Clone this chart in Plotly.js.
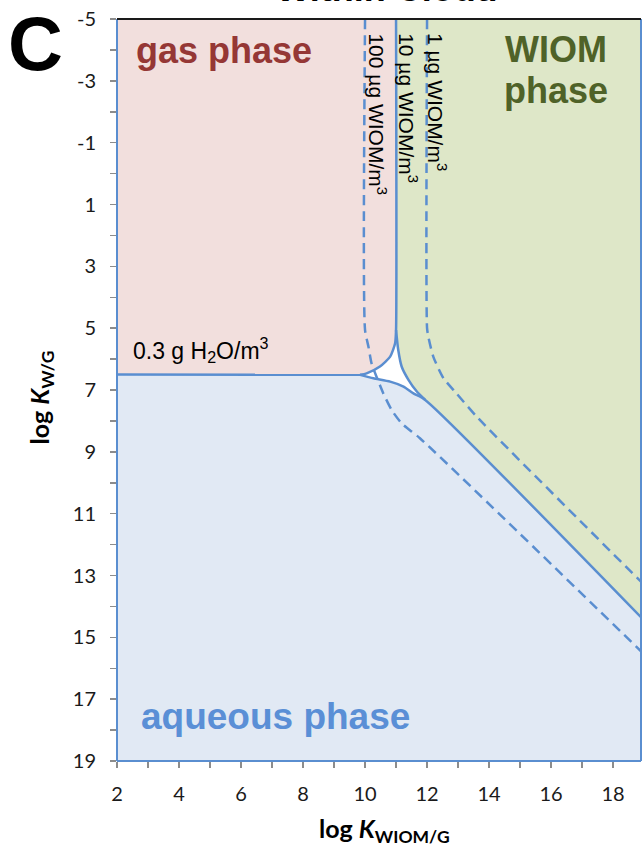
<!DOCTYPE html>
<html>
<head>
<meta charset="utf-8">
<script src="https://cdn.plot.ly/plotly-3.0.1.min.js"></script>
<style>
  html, body { margin: 0; padding: 0; background: #fff; }
  #chart { width: 643px; height: 852px; }
</style>
</head>
<body>
<div id="chart"></div>
<script>
// Axis ranges and tick positions
const xRange = [2, 18.9];
const yRange = [-5, 19];
const xTickVals = [2, 4, 6, 8, 10, 12, 14, 16, 18];
const xMinorTicks = [3, 5, 7, 9, 11, 13, 15, 17];
const yTickVals = [-5, -3, -1, 1, 3, 5, 7, 9, 11, 13, 15, 17, 19];
const yMinorTicks = [-4, -2, 0, 2, 4, 6, 8, 10, 12, 14, 16, 18];

// 50 % phase boundaries for 0.3 g H2O/m3 and 10 µg WIOM/m3
const gasEdgeX = [11, 11, 10.97, 10.81, 10.48, 10.05, 9.84];
const gasEdgeY = [-5, 5.06, 5.49, 5.92, 6.24, 6.46, 6.51];
const waterEdgeX = [2, 9.84, 10.27, 10.81, 11.24, 11.56, 11.94, 18.9];
const waterEdgeY = [6.5, 6.51, 6.62, 6.73, 6.89, 7.11, 7.32, 14.35];
const wiomEdgeX = [11, 11.07, 11.18, 11.40, 11.67, 11.94];
const wiomEdgeY = [5.06, 5.7, 6.24, 6.67, 7.05, 7.32];

// WIOM boundaries for 100 µg/m3 and 1 µg/m3
const wiom100X = [10, 10, 10.11, 10.21, 10.37, 10.59, 10.86, 11.18, 11.77, 18.9];
const wiom100Y = [-5, 5.06, 5.6, 6.14, 6.57, 7.11, 7.65, 8.08, 8.56, 15.45];
const wiom1X = [12, 12, 12.04, 12.2, 12.53, 12.95, 13.6, 18.9];
const wiom1Y = [-5, 5.0, 5.27, 5.92, 6.62, 7.11, 7.86, 13.2];

const last = a => a[a.length - 1];

// Shaded phase regions
const gasRegionX = [xRange[0], ...gasEdgeX, xRange[0]];
const gasRegionY = [yRange[0], ...gasEdgeY, waterEdgeY[0]];
const wiomRegionX = [gasEdgeX[0], ...wiomEdgeX, last(waterEdgeX), xRange[1], xRange[1]];
const wiomRegionY = [gasEdgeY[0], ...wiomEdgeY, last(waterEdgeY), last(waterEdgeY), yRange[0]];
const aqRegionX = [...waterEdgeX, xRange[1], xRange[0]];
const aqRegionY = [...waterEdgeY, yRange[1], yRange[1]];

const lineBlue = '#5a8ed0';
const region = (x, y, color) => ({
  x, y, type: 'scatter', mode: 'lines', fill: 'toself', fillcolor: color,
  line: { width: 0, color: color }, hoverinfo: 'skip', showlegend: false
});
const boundary = (x, y, dash, shape) => ({
  x, y, type: 'scatter', mode: 'lines',
  line: { color: lineBlue, width: 2.5, dash: dash, shape: shape || 'spline', smoothing: 0.6 },
  hoverinfo: 'skip', showlegend: false
});

const traces = [
  region(gasRegionX, gasRegionY, '#f2dfdd'),
  region(wiomRegionX, wiomRegionY, '#dee7c8'),
  region(aqRegionX, aqRegionY, '#e1e9f4'),
  boundary(wiom100X, wiom100Y, '10px,6px'),
  boundary(wiom1X, wiom1Y, '10px,6px'),
  boundary(gasEdgeX, gasEdgeY, 'solid'),
  boundary(waterEdgeX.slice(0, 2), waterEdgeY.slice(0, 2), 'solid', 'linear'),
  boundary(waterEdgeX.slice(1), waterEdgeY.slice(1), 'solid'),
  boundary(wiomEdgeX, wiomEdgeY, 'solid')
];

const tickFont = { family: 'Lato, sans-serif', size: 20, color: '#1a1a1a' };
const tickStyle = { ticks: 'outside', ticklen: 6, tickwidth: 1.5, tickcolor: '#8c8c8c' };

const labelFont = (size, color, bold) => ({
  family: '"Liberation Sans", Arial, sans-serif', size: size, color: color,
  weight: bold ? 'bold' : 'normal'
});

const annotations = [
  { text: '<b>gas phase</b>', x: 2.55, y: -3.98, xanchor: 'left', yanchor: 'middle',
    font: labelFont(36, '#953735', true) },
  { text: '<b>WIOM</b>', x: 16.16, y: -4.02, xanchor: 'center', yanchor: 'middle',
    font: labelFont(36, '#4f6228', true) },
  { text: '<b>phase</b>', x: 16.16, y: -2.69, xanchor: 'center', yanchor: 'middle',
    font: labelFont(36, '#4f6228', true) },
  { text: '<b>aqueous phase</b>', x: 7.1, y: 17.56, xanchor: 'center', yanchor: 'middle',
    font: labelFont(37, '#5a8fd6', true) },
  { text: '0.3 g H<sub>2</sub>O/m<sup>3</sup>', x: 2.45, y: 5.72, xanchor: 'left', yanchor: 'middle',
    font: labelFont(23, '#000', false) },
  { text: '100 µg WIOM/m<sup>3</sup>', x: 10.4, y: -4.6, xanchor: 'center', yanchor: 'top',
    textangle: 90, font: labelFont(21, '#000', false) },
  { text: '10 µg WIOM/m<sup>3</sup>', x: 11.36, y: -4.6, xanchor: 'center', yanchor: 'top',
    textangle: 90, font: labelFont(21, '#000', false) },
  { text: '1 µg WIOM/m<sup>3</sup>', x: 12.3, y: -4.6, xanchor: 'center', yanchor: 'top',
    textangle: 90, font: labelFont(21, '#000', false) },
  // panel letter, heading and axis titles
  { text: '<b>C</b>', xref: 'paper', yref: 'paper', x: -0.156, y: 0.967,
    xanchor: 'center', yanchor: 'middle', font: labelFont(76, '#000', true) },
  { text: '<b>Within Cloud</b>', xref: 'paper', yref: 'paper', x: 0.515, y: 1.041,
    xanchor: 'center', yanchor: 'middle', font: labelFont(36, '#000', true) },
  { text: '<b>log <i>K</i><sub>WIOM/G</sub></b>', xref: 'paper', yref: 'paper', x: 0.511, y: -0.093,
    xanchor: 'center', yanchor: 'middle',
    font: { family: 'Lato, sans-serif', size: 25, color: '#000', weight: 'bold' } },
  { text: '<b>log <i>K</i><sub>W/G</sub></b>', xref: 'paper', yref: 'paper', x: -0.145, y: 0.49,
    xanchor: 'center', yanchor: 'middle', textangle: -90,
    font: { family: 'Lato, sans-serif', size: 25, color: '#000', weight: 'bold' } }
].map(a => Object.assign({ showarrow: false, xref: 'x', yref: 'y' }, a));

const shapes = [
  { type: 'line', xref: 'paper', yref: 'paper', x0: 0, x1: 0, y0: 0, y1: 1, line: { color: lineBlue, width: 2 } },
  { type: 'line', xref: 'paper', yref: 'paper', x0: 0, x1: 1, y0: 0, y1: 0, line: { color: lineBlue, width: 2 } },
  { type: 'line', xref: 'paper', yref: 'paper', x0: 1, x1: 1, y0: 0, y1: 1, line: { color: lineBlue, width: 2 } },
  { type: 'line', xref: 'paper', yref: 'paper', x0: 0, x1: 1, y0: 1, y1: 1, line: { color: '#1a1a1a', width: 2 } }
].map(s => Object.assign({ layer: 'above' }, s));

const layout = {
  width: 643, height: 852,
  margin: { l: 117, r: 2, t: 19, b: 91, pad: 0 },
  paper_bgcolor: '#fff', plot_bgcolor: '#fff',
  font: { family: '"Liberation Sans", Arial, sans-serif', color: '#000' },
  showlegend: false,
  xaxis: Object.assign({
    range: xRange, tickmode: 'array', tickvals: xTickVals, ticktext: xTickVals.map(String),
    minor: Object.assign({ tickmode: 'array', tickvals: xMinorTicks }, tickStyle),
    showgrid: false, zeroline: false, showline: false, tickfont: tickFont,
    ticklabelstandoff: 9, fixedrange: true
  }, tickStyle),
  yaxis: Object.assign({
    range: [yRange[1], yRange[0]], tickmode: 'array', tickvals: yTickVals, ticktext: yTickVals.map(String),
    minor: Object.assign({ tickmode: 'array', tickvals: yMinorTicks }, tickStyle),
    showgrid: false, zeroline: false, showline: false, tickfont: tickFont,
    ticklabelstandoff: 10, fixedrange: true
  }, tickStyle),
  annotations, shapes
};

Plotly.newPlot('chart', traces, layout, { displayModeBar: false, staticPlot: true });
</script>
</body>
</html>
